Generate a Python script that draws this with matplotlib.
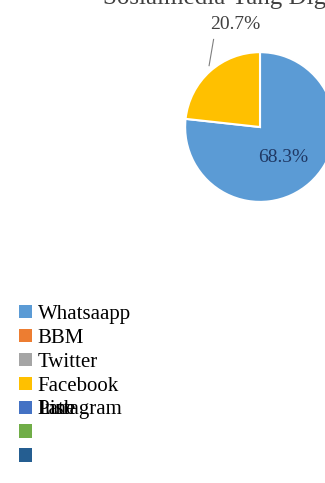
import matplotlib
matplotlib.use('Agg')
import matplotlib.pyplot as plt
from matplotlib.patches import Patch

# data
kategori = ['Whatsaapp', 'BBM', 'Twitter', 'Facebook', 'Instagram', 'Line', 'Path']
nilai = [68.3, 0, 0, 20.7, 0, 0, 0]
label_persen = ['68.3%', '', '', '20.7%', '', '', '']
warna = ['#5B9BD5', '#ED7D31', '#A5A5A5', '#FFC000', '#4472C4', '#70AD47', '#255E91']
judul = 'Sosialmedia Yang Digunakan'

plt.rcParams['font.family'] = ['Liberation Serif', 'DejaVu Serif']

fig = plt.figure(figsize=(3.25, 4.83), dpi=100)
ax = fig.add_axes([0.569, 0.582, 0.462, 0.31])

idx = [i for i, v in enumerate(nilai) if v > 0]
wedges, _ = ax.pie([nilai[i] for i in idx], colors=[warna[i] for i in idx],
                   startangle=90, counterclock=False,
                   wedgeprops=dict(edgecolor='white', linewidth=1.5))
ax.set_aspect('equal')
ax.set_xlim(-1, 1)
ax.set_ylim(-1, 1)
for w in wedges:
    w.set_clip_on(False)

# data labels
ax.text(0.31, -0.41, label_persen[0], fontsize=14, color='#1F3864', ha='center', va='center')
ax.text(-0.33, 1.37, label_persen[3], fontsize=14, color='#404040', ha='center', va='center', clip_on=False)
ax.plot([-0.68, -0.62], [0.82, 1.17], color='#7F7F7F', lw=0.8, clip_on=False)

# title, cut at the top of the picture
fig.text(0.77, 1 - 4 / 483, judul, fontsize=18, color='#404040', ha='center', va='baseline')

# legend
handles = [Patch(facecolor=c, edgecolor='none') for c in warna]
leg_labels = kategori[:5] + ['', '']
leg = fig.legend(handles, leg_labels, loc='upper left', bbox_to_anchor=(0.033, 0.386),
                 frameon=False, fontsize=15, handlelength=0.6, handleheight=0.6,
                 handletextpad=0.3, labelspacing=0.235, borderaxespad=0)
fig.canvas.draw()
bb = leg.get_texts()[4].get_window_extent()
for lab in kategori[5:]:
    fig.text(bb.x0 / fig.bbox.width, bb.y0 / fig.bbox.height, lab, fontsize=15, ha='left', va='bottom')

fig.savefig('out.png', dpi=100)
